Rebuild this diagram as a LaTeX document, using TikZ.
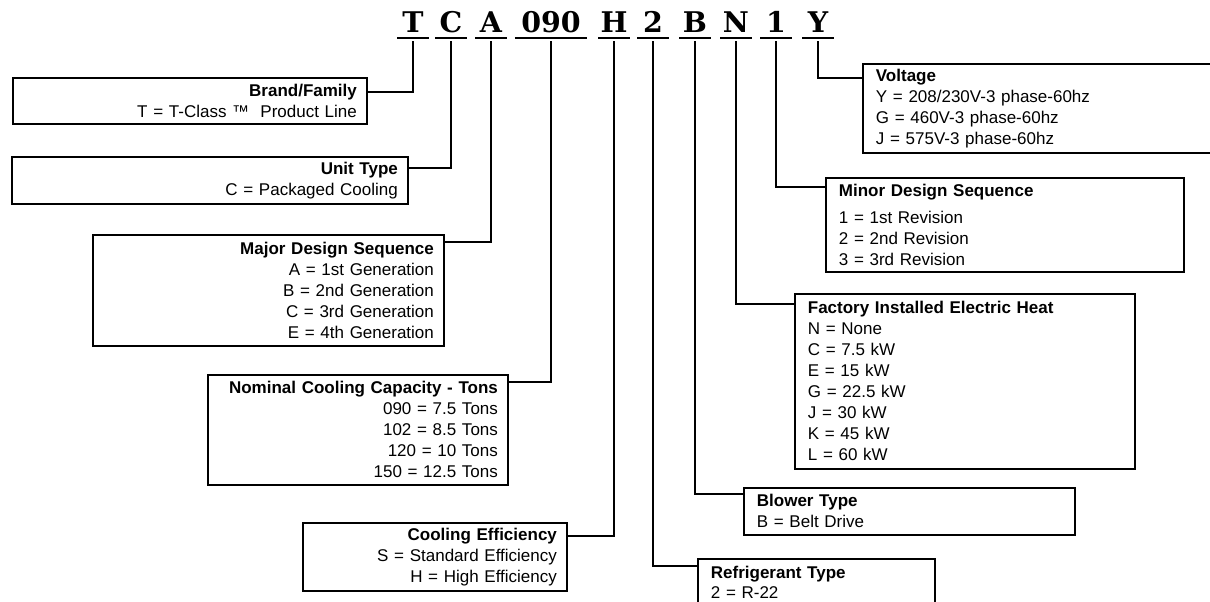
\documentclass[tikz,border=0pt]{standalone}
\usepackage{fontspec}
\setmainfont{Liberation Sans}
\newfontfamily\codefont{DejaVu Serif}
\begin{document}
\begin{tikzpicture}[x=1pt,y=-1pt,
  box/.style={draw, line width=1.8pt, rectangle, inner ysep=0pt, anchor=north west,
    font=\fontsize{17}{21}\selectfont},
  lbox/.style={box, align=right, inner xsep=10pt},
  rbox/.style={box, align=left, inner xsep=13pt},
  letter/.style={font=\codefont\bfseries\fontsize{28.5}{28.5}\selectfont, inner sep=0pt,
    anchor=base, text depth=5pt, minimum width=31pt},
  conn/.style={line width=2.4pt},
  uline/.style={line width=2pt}]
\useasboundingbox (0,0) rectangle (1210,602);
\clip (0,0) rectangle (1210,602);

% model code letters
\node[letter] (lT) at (413,33) {T};
\node[letter] (lC) at (451,33) {C};
\node[letter] (lA) at (491,33) {A};
\node[letter, minimum width=72pt] (l090) at (551,33) {090};
\node[letter] (lH) at (614,33) {H};
\node[letter] (l2) at (653,33) {2};
\node[letter] (lB) at (695,33) {B};
\node[letter] (lN) at (736,33) {N};
\node[letter] (l1) at (776,33) {1};
\node[letter] (lY) at (818,33) {Y};
\foreach \n in {lT,lC,lA,l090,lH,l2,lB,lN,l1,lY}
  \draw[uline] (\n.south west) -- (\n.south east);

% left column boxes
\node[lbox, minimum width=354pt, minimum height=46pt, text width=334pt] (bBrand) at (12,77)
  {\textbf{Brand/Family}\\ T = T-Class ™\ \ Product Line};
\node[lbox, minimum width=396pt, minimum height=47pt, text width=376pt] (bUnit) at (11,156)
  {\textbf{Unit Type}\\ C = Packaged Cooling};
\node[lbox, minimum width=351pt, minimum height=111pt, text width=331pt] (bMajor) at (92,234)
  {\textbf{Major Design Sequence}\\ A = 1st Generation\\ B = 2nd Generation\\ C = 3rd Generation\\ E = 4th Generation};
\node[lbox, minimum width=300pt, minimum height=110pt, text width=280pt] (bNom) at (207,374)
  {\textbf{Nominal Cooling Capacity - Tons}\\ 090 = 7.5 Tons\\ 102 = 8.5 Tons\\ 120 = 10 Tons\\ 150 = 12.5 Tons};
\node[lbox, minimum width=264pt, minimum height=68pt, text width=244pt] (bEff) at (302,522)
  {\textbf{Cooling Efficiency}\\ S = Standard Efficiency\\ H = High Efficiency};

% right column boxes
\node[rbox, minimum width=360pt, minimum height=89pt, text width=334pt] (bVolt) at (862,63)
  {\textbf{Voltage}\\ Y = 208/230V-3 phase-60hz\\ G = 460V-3 phase-60hz\\ J = 575V-3 phase-60hz};
\node[rbox, minimum width=358pt, minimum height=94pt, text width=332pt] (bMinor) at (825,177)
  {\textbf{Minor Design Sequence}\\[6pt] 1 = 1st Revision\\ 2 = 2nd Revision\\ 3 = 3rd Revision};
\node[rbox, minimum width=340pt, minimum height=175pt, text width=314pt] (bHeat) at (794,293)
  {\textbf{Factory Installed Electric Heat}\\ N = None\\ C = 7.5 kW\\ E = 15 kW\\ G = 22.5 kW\\ J = 30 kW\\ K = 45 kW\\ L = 60 kW};
\node[rbox, minimum width=331pt, minimum height=47pt, text width=305pt] (bBlow) at (743,487)
  {\textbf{Blower Type}\\ B = Belt Drive};
\node[rbox, minimum width=237pt, minimum height=46pt, text width=211pt] (bRef) at (697,558)
  {\textbf{Refrigerant Type}\\[-1pt] 2 = R-22};

% connectors
\draw[conn] ([yshift=-3pt]lT.south) |- ([yshift=-15pt]bBrand.north east);
\draw[conn] ([yshift=-3pt]lC.south) |- ([yshift=-12pt]bUnit.north east);
\draw[conn] ([yshift=-3pt]lA.south) |- ([yshift=-8pt]bMajor.north east);
\draw[conn] ([yshift=-3pt]l090.south) |- ([yshift=-8pt]bNom.north east);
\draw[conn] ([yshift=-3pt]lH.south) |- ([yshift=-14pt]bEff.north east);
\draw[conn] ([yshift=-3pt]l2.south) |- ([yshift=-8pt]bRef.north west);
\draw[conn] ([yshift=-3pt]lB.south) |- ([yshift=-7pt]bBlow.north west);
\draw[conn] ([yshift=-3pt]lN.south) |- ([yshift=-11pt]bHeat.north west);
\draw[conn] ([yshift=-3pt]l1.south) |- ([yshift=-10pt]bMinor.north west);
\draw[conn] ([yshift=-3pt]lY.south) |- ([yshift=-15pt]bVolt.north west);
\end{tikzpicture}
\end{document}
